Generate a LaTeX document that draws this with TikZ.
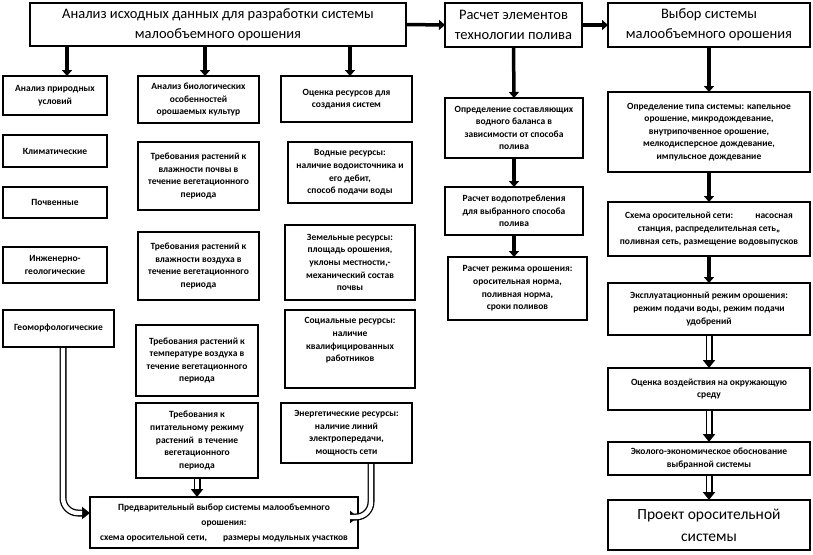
\documentclass[tikz,border=0pt]{standalone}
\usepackage{fontspec}
\setmainfont{Carlito}
\usetikzlibrary{arrows.meta}
\newcommand\bx[6]{\node[#6] (#1) at ({(#2+#4)/2},{(#3+#5)/2}) [minimum width={(#4-#2)*1pt}, minimum height={(#5-#3)*1pt}]}
\tikzset{
  box/.style={draw, line width=2.2pt, align=center, inner sep=1pt, outer sep=0pt,
    font=\bfseries\fontsize{9.5}{12.6}\selectfont},
  bigbox/.style={box, font=\fontsize{14.5}{20}\selectfont},
  arr/.style={line width=3.5pt, -{Triangle[length=6pt,width=10pt]}},
  dbl/.style={line width=7pt, -{Triangle[length=8pt,width=12pt]},
    postaction={draw=white, line width=4.4pt, -, shorten >=8pt, shorten <=1.2pt}}
}
\begin{document}
\begin{tikzpicture}[x=1pt,y=-1pt]
\useasboundingbox (0,0) rectangle (813,554);
% top row
\bx{A}{30}{3}{406}{46}{bigbox}{Анализ исходных данных для разработки системы\\малообъемного орошения};
\bx{B}{445}{3}{582}{47}{bigbox}{Расчет элементов\\технологии полива};
\bx{C}{608}{3}{810}{47}{bigbox}{Выбор системы\\малообъемного орошения};
% column 1
\bx{n1}{3}{76}{107}{115}{box}{Анализ природных\\условий};
\bx{n2}{3}{135}{107}{167}{box}{Климатические};
\bx{n3}{3}{187}{107}{218}{box}{Почвенные};
\bx{n4}{3}{247}{107}{283}{box}{Инженерно-\\геологические};
\bx{n5}{3}{310}{114}{347}{box}{Геоморфологические};
% column 2
\bx{b1}{138}{76}{259}{123}{box}{Анализ биологических\\особенностей\\орошаемых культур};
\bx{b2}{138}{142}{259}{210}{box}{Требования растений к\\влажности почвы в\\течение вегетационного\\периода};
\bx{b3}{138}{232}{259}{300}{box}{Требования растений к\\влажности воздуха в\\течение вегетационного\\периода};
\bx{b4}{136}{325}{258}{396}{box}{Требования растений к\\температуре воздуха в\\течение вегетационного\\периода};
\bx{b5}{136}{403}{258}{478}{box}{Требования к\\питательному режиму\\растений\ \ в течение\\вегетационного\\периода};
% column 3
\bx{r1}{281}{76}{412}{122}{box}{Оценка ресурсов для\\создания систем};
\bx{r2}{288}{142}{412}{203}{box}{Водные ресурсы:\\наличие водоисточника и\\его дебит,\\способ подачи воды};
\bx{r3}{285}{225}{415}{300}{box}{Земельные ресурсы:\\площадь орошения,\\уклоны местности,-\\механический состав\\почвы};
\bx{r4}{285}{310}{415}{388}{box}{Социальные ресурсы:\\наличие\\квалифицированных\\работников\\[6pt]};
\bx{r5}{281}{403}{412}{463}{box}{Энергетические ресурсы:\\наличие линий\\электропередачи,\\мощность сети};
% column 4
\bx{d1}{445}{98}{583}{158}{box}{Определение составляющих\\водного баланса в\\зависимости от способа\\полива};
\bx{d2}{445}{187}{583}{235}{box}{Расчет водопотребления\\для выбранного способа\\полива};
\bx{d3}{448}{257}{587}{320}{box}{Расчет режима орошения:\\оросительная норма,\\поливная норма,\\сроки поливов};
% column 5
\bx{e1}{608}{92}{810}{172}{box}{Определение типа системы: капельное\\орошение, микродождевание,\\внутрипочвенное орошение,\\мелкодисперсное дождевание,\\импульсное дождевание};
\bx{e2}{608}{202}{810}{256}{box}{Схема оросительной сети:\hspace{22pt}насосная\\станция, распределительная сеть,,\\поливная сеть, размещение водовыпусков};
\bx{e3}{608}{283}{810}{335}{box}{Эксплуатационный режим орошения:\\режим подачи воды, режим подачи\\удобрений};
\bx{e4}{608}{368}{810}{410}{box}{Оценка воздействия на окружающую\\среду};
\bx{e5}{608}{442}{810}{475}{box}{Эколого-экономическое обоснование\\выбранной системы};
\bx{e6}{608}{500}{810}{550}{bigbox, font=\fontsize{15.5}{22}\selectfont}{Проект оросительной\\системы};
% bottom
\bx{bot}{90}{497}{358}{548}{box, font=\bfseries\fontsize{9.5}{15}\selectfont}{Предварительный выбор системы малообъемного\\орошения:\\схема оросительной сети,\hspace{16pt}размеры модульных участков};
% helper coordinates
\coordinate (x1) at (67,0);
\coordinate (x2) at (205,0);
\coordinate (x3) at (350,0);
\coordinate (gL) at (63,513);
\coordinate (gR) at (371,517);
% connectors
\draw[arr] (A.east) -- (B.west);
\draw[arr] (B.east) -- (C.west);
\draw[arr] (A.south -| x1) -- (n1.north -| x1);
\draw[arr] (A.south -| x2) -- (b1.north -| x2);
\draw[arr] (A.south -| x3) -- (r1.north -| x3);
\draw[arr] (B.south) -- (d1.north);
\draw[arr] (d1.south) -- (d2.north);
\draw[arr] (d2.south) -- (d3.north -| d2.south);
\draw[arr] (C.south) -- (e1.north);
\draw[arr] (e1.south) -- (e2.north);
\draw[arr] (e2.south) -- (e3.north);
\draw[dbl] (e3.south) -- (e4.north);
\draw[dbl] (e4.south) -- (e5.north);
\draw[dbl] (e5.south) -- (e6.north);
\draw[dbl] (b5.south) -- (bot.north -| b5.south);
\draw[dbl, rounded corners=15pt] (n5.south -| gL) -- (gL) -- (gL -| bot.west);
\draw[dbl, rounded corners=15pt] (r5.south -| gR) -- (gR) -- (gR -| bot.east);
\end{tikzpicture}
\end{document}
